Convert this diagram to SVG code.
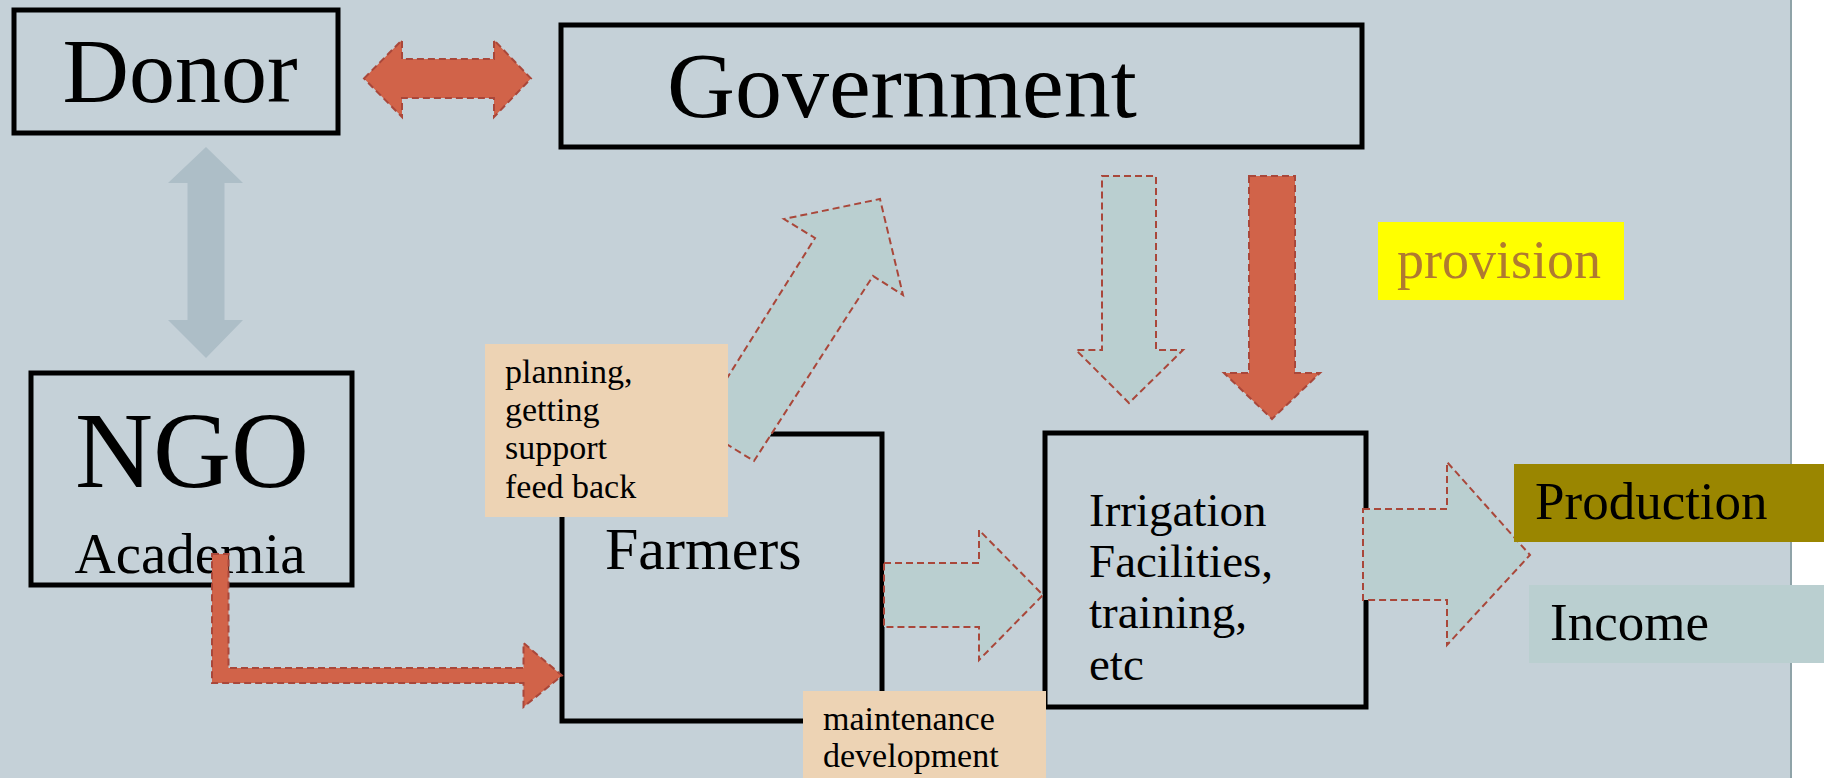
<svg xmlns="http://www.w3.org/2000/svg" width="1827" height="778" viewBox="0 0 1827 778">
<style>
.box{fill:none;stroke:#000;stroke-width:5}
.t{font-family:"Liberation Serif","Times New Roman",serif;fill:#000}
.teal{fill:#BACFD0;stroke:#A9473A;stroke-width:2;stroke-dasharray:7 4}
.red{fill:#D16349;stroke:#A9473A;stroke-width:2;stroke-dasharray:7 4}
.peach{fill:#EDD3B4}
</style>
<rect x="0" y="0" width="1827" height="778" fill="#fff"/>
<rect x="0" y="0" width="1790" height="778" fill="#C5D1D8"/>
<line x1="1791" y1="0" x2="1791" y2="778" stroke="#8FA3A8" stroke-width="2"/>

<g id="donor">
<rect class="box" x="14" y="10" width="324" height="123"/>
<text class="t" x="180" y="102" font-size="92" text-anchor="middle">Donor</text>
</g>
<g id="government">
<rect class="box" x="561" y="25" width="801" height="122"/>
<text class="t" x="667" y="117" font-size="94">Government</text>
</g>
<g id="ngo">
<rect class="box" x="31" y="373" width="321" height="212"/>
<text class="t" x="192" y="487" font-size="108" text-anchor="middle">NGO</text>
<text class="t" x="190" y="573" font-size="57" text-anchor="middle">Academia</text>
</g>
<g id="farmers">
<rect class="box" x="562" y="434" width="320" height="287"/>
<text class="t" x="605" y="569" font-size="60">Farmers</text>
</g>
<g id="irrigation">
<rect class="box" x="1045" y="433" width="321" height="274"/>
<text class="t" font-size="47"><tspan x="1089" y="526">Irrigation</tspan><tspan x="1089" y="577">Facilities,</tspan><tspan x="1089" y="628">training,</tspan><tspan x="1089" y="680">etc</tspan></text>
</g>

<g id="connectors">
<polygon id="donor-gov" class="red" points="364,78.5 402,40 402,59 494,59 494,40 531,78.5 494,117 494,98 402,98 402,117"/>
<polygon id="donor-ngo" fill="#ADBEC7" points="206,147 243,183 224.5,183 224.5,320 243,320 206,358 168,320 187.5,320 187.5,183 168,183"/>
<polygon id="ngo-farmers" class="red" points="212,554 228.5,554 228.5,668 523.5,668 523.5,643 562,675.5 523.5,707 523.5,683 212,683"/>
<polygon id="farmers-gov" class="teal" points="697,426 815,238 784,219 880,199 903,295 873,276 754,461"/>
<polygon id="gov-irr-teal" class="teal" points="1102,176 1156,176 1156,350 1183,350 1129,403 1076,350 1102,350"/>
<polygon id="gov-irr-red" class="red" points="1249,176 1295,176 1295,373 1320,373 1272,419 1224,373 1249,373"/>
<polygon id="farmers-irr" class="teal" points="884,563 979,563 979,530 1043,595 979,660 979,627 884,627"/>
<polygon id="irr-out" class="teal" points="1363,509 1447,509 1447,462 1530,555 1447,645 1447,600 1363,600"/>
</g>

<g id="planning-label">
<rect class="peach" x="485" y="344" width="243" height="173"/>
<text class="t" font-size="34"><tspan x="505" y="383">planning,</tspan><tspan x="505" y="421">getting</tspan><tspan x="505" y="459">support</tspan><tspan x="505" y="498">feed back</tspan></text>
</g>
<g id="maintenance-label">
<rect class="peach" x="803" y="691" width="243" height="90"/>
<text class="t" font-size="34"><tspan x="823" y="730">maintenance</tspan><tspan x="823" y="767">development</tspan></text>
</g>
<g id="provision">
<rect x="1378" y="222" width="246" height="78" fill="#FFFF00"/>
<text class="t" x="1397" y="278" font-size="54" style="fill:#B07A30">provision</text>
</g>
<g id="production">
<rect x="1514" y="464" width="310" height="78" fill="#9A8600"/>
<text class="t" x="1535" y="519" font-size="53">Production</text>
</g>
<g id="income">
<rect x="1529" y="585" width="295" height="78" fill="#BACFD0"/>
<text class="t" x="1550" y="640" font-size="53">Income</text>
</g>
</svg>
